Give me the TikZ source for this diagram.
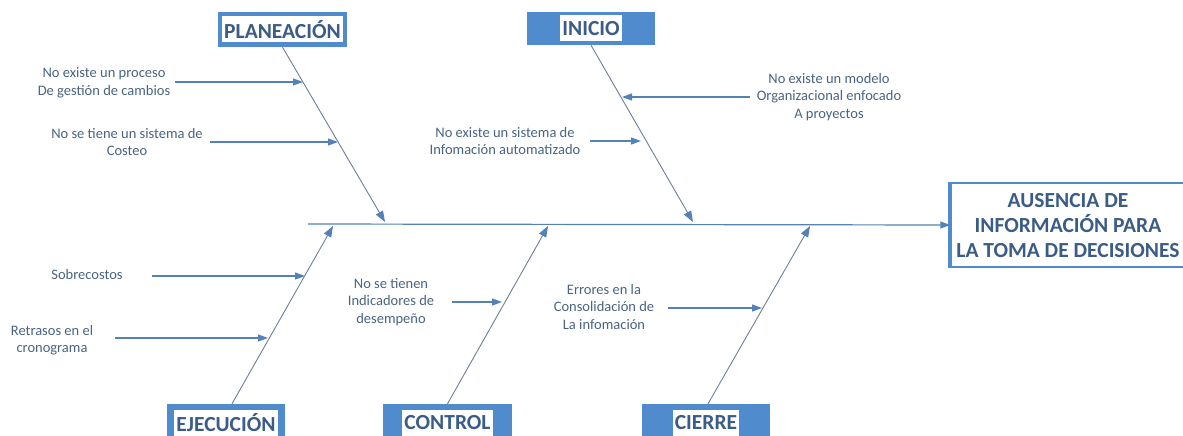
\documentclass[tikz,border=0pt]{standalone}
\usepackage{fontspec}
\setmainfont{Carlito}
\usetikzlibrary{arrows.meta}
\definecolor{boxblue}{RGB}{79,139,205}
\definecolor{arrblue}{RGB}{84,130,182}
\definecolor{bonecol}{RGB}{112,128,150}
\definecolor{txtcol}{RGB}{74,100,130}
\definecolor{titcol}{RGB}{58,92,134}
\begin{document}
\begin{tikzpicture}[x=1pt,y=-1pt,
  catbox/.style={fill=boxblue, draw=none, inner sep=0pt},
  cattext/.style={fill=white, text=titcol, font=\bfseries\fontsize{21.5}{24}\selectfont, inner xsep=2pt, inner ysep=0pt, minimum height=26pt},
  cause/.style={text=txtcol, align=center, font=\fontsize{14.5}{17.5}\selectfont, inner sep=0pt},
  bone/.style={draw=bonecol, line width=0.9pt, -{Triangle[length=11pt,width=8pt,color=arrblue]}},
  subarrow/.style={draw=arrblue, line width=1.2pt, -{Triangle[length=10pt,width=7pt]}},
  spine/.style={draw=arrblue, line width=1.2pt, -{Triangle[length=10pt,width=7pt]}}
]
\useasboundingbox (0,0) rectangle (1183,436);
\fill[white] (0,0) rectangle (1183,436);

% category boxes
\node[catbox, minimum width=129pt, minimum height=35pt] (plan) at (282.5,29.5) {};
\node[cattext, minimum width=117pt] (plant) at (plan.center) {PLANEACIÓN};
\node[catbox, minimum width=128pt, minimum height=33pt] (ini) at (591,28.5) {};
\node[cattext] (init) at (ini.center) {INICIO};
\node[catbox, minimum width=118pt, minimum height=36pt] (ejec) at (226,422) {};
\node[cattext] (eject) at (226,422.5) {EJECUCIÓN};
\node[catbox, minimum width=129pt, minimum height=36pt] (ctrl) at (447.5,422) {};
\node[cattext] (ctrlt) at (447.5,422.5) {CONTROL};
\node[catbox, minimum width=128pt, minimum height=36pt] (cier) at (706,422) {};
\node[cattext] (ciert) at (706,422.5) {CIERRE};

% effect box
\node[draw=boxblue, line width=1.5pt, minimum width=234pt, minimum height=84pt, inner sep=0pt] (eff) at (1068,225) {};
\draw[boxblue, line width=4pt] (eff.north west) -- (eff.south west);
\node[text=titcol, align=center, font=\bfseries\fontsize{21.5}{25}\selectfont, inner sep=0pt] (efft) at (1068,226)
  {AUSENCIA DE\\INFORMACIÓN PARA\\LA TOMA DE DECISIONES};

% spine
\coordinate (sp0) at (308,224);
\draw[spine] (sp0) -- (eff.west);

% bones
\coordinate (pe) at (385,222);
\coordinate (ie) at (693,222);
\coordinate (ee) at (333,226);
\coordinate (ce) at (548,226);
\coordinate (ke) at (810,226);
\draw[bone] (plan.south) -- (pe);
\draw[bone] (ini.south) -- (ie);
\draw[bone] ([xshift=6pt]ejec.north) -- (ee);
\draw[bone] (ctrl.north) -- (ce);
\draw[bone] ([xshift=2pt]cier.north) -- (ke);

% causes
\node[cause] (t1) at (104,83) {No existe un proceso\\De gestión de cambios};
\node[cause] (t2) at (127,142) {No se tiene un sistema de\\Costeo};
\node[cause] (t3) at (505,141) {No existe un sistema de\\Infomación automatizado};
\node[cause] (t4) at (829,97) {No existe un modelo\\Organizacional enfocado\\A proyectos};
\node[cause] (t5) at (87,275) {Sobrecostos};
\node[cause] (t6) at (52,340) {Retrasos en el\\cronograma};
\node[cause] (t7) at (391,302) {No se tienen\\Indicadores de\\desempeño};
\node[cause] (t8) at (604,307) {Errores en la\\Consolidación de\\La infomación};

% cause arrows
\coordinate (s1) at (175,82);  \coordinate (e1) at (303,82);
\coordinate (s2) at (210,142); \coordinate (e2) at (338,142);
\coordinate (s3) at (590,141); \coordinate (e3) at (641,141);
\coordinate (s4) at (750,97);  \coordinate (e4) at (622,97);
\coordinate (s5) at (152,276); \coordinate (e5) at (305,276);
\coordinate (s6) at (115,338); \coordinate (e6) at (268,338);
\coordinate (s7) at (452,302); \coordinate (e7) at (502,302);
\coordinate (s8) at (668,308); \coordinate (e8) at (762,308);
\foreach \i in {1,...,8} {\draw[subarrow] (s\i) -- (e\i);}
\end{tikzpicture}
\end{document}
